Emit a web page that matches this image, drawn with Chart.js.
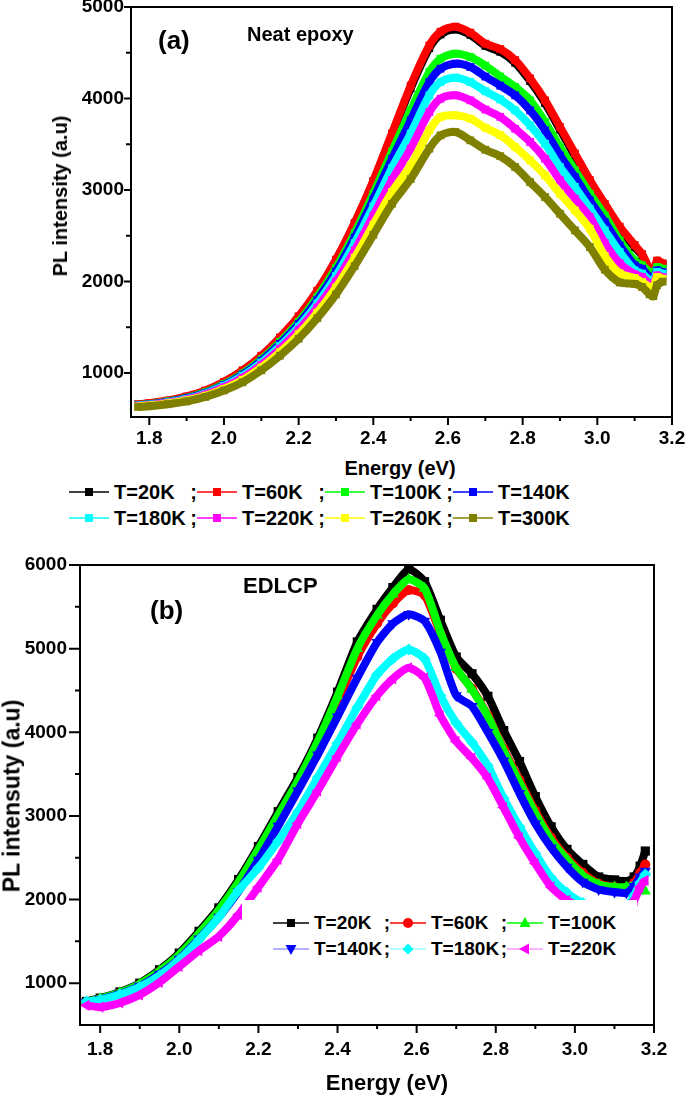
<!DOCTYPE html>
<html>
<head>
<meta charset="utf-8">
<script src="https://cdn.jsdelivr.net/npm/chart.js@4.4.1/dist/chart.umd.min.js"></script>
<style>
  body { margin: 0; background: #fff; }
  #page { position: relative; width: 685px; height: 1096px; overflow: hidden;
          font-family: 'Liberation Sans', Arial, sans-serif; font-weight: bold; color: #000; }
  canvas { position: absolute; left: 0; }
  .txt { position: absolute; white-space: nowrap; line-height: 1; }
  .ctr { transform: translate(-50%, -50%); }
  .rot { transform: translate(-50%, -50%) rotate(-90deg); }
  .legend { position: absolute; }
  .row { display: flex; height: 26px; align-items: center; }
  .cell { display: flex; align-items: center; flex: none; }
  .cell svg { flex: none; display: block; }
  .cell .lab { margin-left: 5px; }
  .cell .semi { margin-left: auto; }
  #boxB { position: absolute; left: 242px; top: 900px; width: 395px; height: 75px; background: #fff; }
</style>
</head>
<body>
<div id="page">
  <canvas id="chartA" width="685" height="450" style="top:0"></canvas>
  <canvas id="chartB" width="685" height="556" style="top:540px"></canvas>

  <div class="txt" style="left:158px; top:27px; font-size:26px">(a)</div>
  <div class="txt" style="left:247px; top:24px; font-size:20px">Neat epoxy</div>
  <div class="txt rot" style="left:60px; top:196px; font-size:20px">PL intensity (a.u)</div>
  <div class="txt ctr" style="left:400px; top:468px; font-size:20px">Energy (eV)</div>
  <div class="legend" id="legendA" style="left:69px; top:479px; font-size:20px"></div>

  <div class="txt" style="left:150px; top:597px; font-size:26px">(b)</div>
  <div class="txt" style="left:243px; top:575px; font-size:22px">EDLCP</div>
  <div class="txt rot" style="left:12px; top:796px; font-size:23px">PL intensuty (a.u)</div>
  <div class="txt ctr" style="left:387px; top:1083px; font-size:22px">Energy (eV)</div>
  <div id="boxB"></div>
  <div class="legend" id="legendB" style="left:273px; top:910px; font-size:19px"></div>
</div>

<script>
// ── (a) Neat epoxy ──
const energyA = [1.77, 1.80, 1.85, 1.90, 1.95, 2.00, 2.05, 2.10, 2.15, 2.20, 2.25, 2.30,
                 2.35, 2.40, 2.45, 2.50, 2.55, 2.58, 2.62, 2.66, 2.70, 2.74, 2.78, 2.82,
                 2.86, 2.90, 2.94, 2.98, 3.02, 3.06, 3.10, 3.12, 3.14, 3.15, 3.16, 3.175];
const neat20K  = [655, 665, 695, 740, 805, 900, 1025, 1182, 1382, 1612, 1892, 2232,
                  2632, 3092, 3605, 4110, 4550, 4700, 4755, 4695, 4575, 4510, 4390, 4190,
                  3950, 3660, 3370, 3080, 2820, 2575, 2375, 2285, 2120, 2080, 2210, 2190];
const neat60K  = [660, 670, 700, 745, 810, 905, 1030, 1190, 1390, 1620, 1900, 2240,
                  2640, 3100, 3620, 4140, 4580, 4730, 4785, 4720, 4600, 4540, 4420, 4220,
                  3980, 3690, 3400, 3110, 2850, 2600, 2400, 2300, 2140, 2100, 2230, 2200];
const neat100K = [650, 660, 690, 730, 790, 880, 995, 1150, 1340, 1560, 1830, 2150,
                  2530, 2960, 3420, 3870, 4290, 4435, 4490, 4454, 4360, 4240, 4126, 3980,
                  3743, 3470, 3215, 2960, 2723, 2450, 2231, 2177, 2104, 2080, 2158, 2140];
const neat140K = [648, 657, 685, 725, 783, 870, 983, 1135, 1320, 1535, 1800, 2110,
                  2480, 2900, 3340, 3761, 4180, 4326, 4381, 4344, 4240, 4140, 4035, 3870,
                  3652, 3379, 3142, 2887, 2650, 2395, 2177, 2140, 2049, 2030, 2122, 2104];
const neat180K = [645, 654, 680, 718, 775, 860, 970, 1115, 1295, 1505, 1760, 2060,
                  2420, 2820, 3240, 3616, 4035, 4180, 4228, 4180, 4080, 3990, 3870, 3707,
                  3506, 3251, 3033, 2796, 2559, 2322, 2122, 2086, 2013, 2000, 2104, 2086];
const neat220K = [640, 650, 675, 710, 765, 845, 950, 1090, 1265, 1470, 1715, 2000,
                  2340, 2720, 3110, 3452, 3852, 3998, 4035, 3980, 3880, 3800, 3670, 3525,
                  3342, 3106, 2905, 2705, 2420, 2200, 2080, 2049, 1976, 1960, 2067, 2049];
const neat260K = [635, 645, 668, 700, 752, 828, 925, 1060, 1228, 1425, 1660, 1935,
                  2260, 2620, 2980, 3270, 3652, 3798, 3816, 3780, 3680, 3600, 3470, 3324,
                  3160, 2960, 2778, 2577, 2280, 2090, 2040, 1994, 1940, 1920, 2049, 2031];
const neat300K = [630, 638, 660, 690, 740, 810, 900, 1030, 1190, 1375, 1600, 1860,
                  2170, 2510, 2850, 3120, 3452, 3597, 3634, 3543, 3440, 3370, 3251, 3087,
                  2923, 2741, 2559, 2377, 2130, 1990, 1975, 1940, 1860, 1840, 1960, 2000];
const labelsA = ['T=20K', 'T=60K', 'T=100K', 'T=140K', 'T=180K', 'T=220K', 'T=260K', 'T=300K'];
const colorsA = ['#000000', '#ff0000', '#00ff00', '#0000ff', '#00ffff', '#ff00ff', '#ffff00', '#808000'];
const seriesA = [neat20K, neat60K, neat100K, neat140K, neat180K, neat220K, neat260K, neat300K];

// ── (b) EDLCP ──
const energyB = [1.765, 1.80, 1.85, 1.90, 1.95, 2.00, 2.05, 2.10, 2.15, 2.20, 2.25, 2.30,
                 2.35, 2.40, 2.45, 2.50, 2.54, 2.58, 2.62, 2.66, 2.70, 2.74, 2.78, 2.82,
                 2.86, 2.90, 2.94, 2.98, 3.02, 3.06, 3.10, 3.13, 3.15, 3.165, 3.178];
const edlcp20K  = [781, 821, 895, 1000, 1160, 1360, 1620, 1900, 2240, 2633, 3050, 3460,
                   3930, 4480, 5080, 5470, 5730, 5950, 5800, 5340, 4900, 4700, 4430, 4020,
                   3650, 3230, 2870, 2600, 2420, 2270, 2235, 2215, 2270, 2400, 2580];
const edlcp60K  = [770, 810, 880, 982, 1135, 1325, 1575, 1850, 2180, 2560, 2960, 3370,
                   3830, 4360, 4900, 5300, 5540, 5700, 5640, 5180, 4760, 4520, 4200, 3800,
                   3430, 3060, 2740, 2500, 2320, 2190, 2150, 2130, 2200, 2320, 2420];
const edlcp100K = [775, 815, 885, 990, 1145, 1340, 1595, 1875, 2210, 2600, 3010, 3420,
                   3890, 4430, 5000, 5400, 5650, 5830, 5720, 5200, 4770, 4510, 4190, 3780,
                   3400, 3030, 2710, 2480, 2290, 2180, 2150, 2150, 2170, 2130, 2100];
const edlcp140K = [770, 805, 870, 965, 1110, 1290, 1530, 1790, 2100, 2474, 2880, 3300,
                   3730, 4187, 4650, 5075, 5300, 5410, 5330, 4960, 4440, 4310, 4000, 3660,
                   3270, 2910, 2620, 2390, 2210, 2120, 2090, 2080, 2160, 2270, 2340];
const edlcp180K = [781, 801, 865, 955, 1090, 1280, 1520, 1790, 2110, 2380, 2700, 3050,
                   3460, 3870, 4300, 4690, 4880, 4990, 4880, 4440, 4110, 3880, 3600, 3210,
                   2870, 2550, 2260, 2080, 1960, 1910, 1900, 1910, 2050, 2200, 2300];
const edlcp220K = [735, 713, 765, 860, 1010, 1200, 1390, 1560, 1820, 2150, 2480, 2912,
                   3300, 3709, 4100, 4438, 4640, 4770, 4650, 4200, 3890, 3690, 3450, 3100,
                   2740, 2430, 2150, 1990, 1900, 1870, 1860, 1880, 1990, 2150, 2230];
const labelsB = ['T=20K', 'T=60K', 'T=100K', 'T=140K', 'T=180K', 'T=220K'];
const colorsB = ['#000000', '#ff0000', '#00ff00', '#0000ff', '#00ffff', '#ff00ff'];
const lineColorsB = ['#000000', '#ff0000', '#00ff00', '#9999ff', '#99ffff', '#ff99ff'];
const stylesB = ['rect', 'circle', 'triangle', 'triangle', 'rectRot', 'triangle'];
const rotationsB = [0, 0, 0, 180, 0, -90];
const radiiB = [6.5, 5, 6.5, 6.5, 6, 6.5];
const seriesB = [edlcp20K, edlcp60K, edlcp100K, edlcp140K, edlcp180K, edlcp220K];

// ── axes ──
const xMajor = [1.8, 2.0, 2.2, 2.4, 2.6, 2.8, 3.0, 3.2];
const xMinor = [1.9, 2.1, 2.3, 2.5, 2.7, 2.9, 3.1];
const yMajorA = [1000, 2000, 3000, 4000, 5000];
const yMinorA = [1500, 2500, 3500, 4500];
const yMajorB = [1000, 2000, 3000, 4000, 5000, 6000];
const yMinorB = [1500, 2500, 3500, 4500, 5500];

// frame, outward major/minor ticks and tick labels, placed through the chart's scales
const framePlugin = {
    id: 'frame',
    afterDatasetsDraw(chart, args, o) {
        const { ctx, chartArea: a, scales: { x, y } } = chart;
        ctx.save();
        ctx.strokeStyle = '#000';
        ctx.lineWidth = 2;
        ctx.strokeRect(a.left, a.top, a.right - a.left, a.bottom - a.top);
        ctx.beginPath();
        const xt = (v, len) => { const p = x.getPixelForValue(v); ctx.moveTo(p, a.bottom); ctx.lineTo(p, a.bottom + len); };
        const yt = (v, len) => { const p = y.getPixelForValue(v); ctx.moveTo(a.left, p); ctx.lineTo(a.left - len, p); };
        o.xMajor.forEach(v => xt(v, 8));
        o.xMinor.forEach(v => xt(v, 4));
        o.yMajor.forEach(v => yt(v, o.yLen));
        o.yMinor.forEach(v => yt(v, 5));
        ctx.stroke();

        ctx.fillStyle = '#000';
        ctx.font = "bold 19px 'Liberation Sans', Arial, sans-serif";
        ctx.textBaseline = 'middle';
        ctx.textAlign = 'center';
        o.xMajor.forEach(v => ctx.fillText(v.toFixed(1), x.getPixelForValue(v), a.bottom + o.xOff));
        ctx.textAlign = 'right';
        o.yMajor.forEach(v => ctx.fillText(String(v), a.left - o.yOff, y.getPixelForValue(v)));
        ctx.restore();
    }
};

function scalesFor(xRange, yRange, yWidth, xHeight) {
    return {
        x: {
            type: 'linear', min: xRange[0], max: xRange[1],
            grid: { display: false, drawTicks: false }, border: { display: false },
            ticks: { display: false },
            afterFit: s => { s.height = xHeight; s.paddingLeft = 0; s.paddingRight = 0; }
        },
        y: {
            type: 'linear', min: yRange[0], max: yRange[1],
            grid: { display: false, drawTicks: false }, border: { display: false },
            ticks: { display: false },
            afterFit: s => { s.width = yWidth; s.paddingTop = 0; s.paddingBottom = 0; }
        }
    };
}

new Chart(document.getElementById('chartA'), {
    type: 'line',
    data: {
        datasets: seriesA.map((vals, i) => ({
            label: labelsA[i],
            data: energyA.map((e, j) => ({ x: e, y: vals[j] })),
            borderColor: colorsA[i], backgroundColor: colorsA[i],
            borderWidth: 8, tension: 0.3,
            pointStyle: 'rect', pointRadius: 5.5, pointBorderWidth: 0,
            order: -i, clip: 0
        }))
    },
    options: {
        responsive: false, animation: false,
        layout: { padding: { left: 0, top: 7, right: 13, bottom: 0 } },
        plugins: { legend: { display: false }, tooltip: { enabled: false },
                   frame: { xMajor, xMinor, yMajor: yMajorA, yMinor: yMinorA, yLen: 7, xOff: 22, yOff: 7 } },
        scales: scalesFor([1.751, 3.2], [520, 5000], 131, 33)
    },
    plugins: [framePlugin]
});

new Chart(document.getElementById('chartB'), {
    type: 'line',
    data: {
        datasets: seriesB.map((vals, i) => ({
            label: labelsB[i],
            data: energyB.map((e, j) => ({ x: e, y: vals[j] })),
            borderColor: colorsB[i], backgroundColor: colorsB[i],
            borderWidth: 8, tension: 0.2,
            pointStyle: stylesB[i], pointRotation: rotationsB[i], pointRadius: radiiB[i],
            pointBorderWidth: 0, order: -i, clip: 0
        }))
    },
    options: {
        responsive: false, animation: false,
        layout: { padding: { left: 0, top: 25, right: 31, bottom: 0 } },
        plugins: { legend: { display: false }, tooltip: { enabled: false },
                   frame: { xMajor, xMinor, yMajor: yMajorB, yMinor: yMinorB, yLen: 11, xOff: 25, yOff: 13 } },
        scales: scalesFor([1.749, 3.2], [500, 6000], 80, 71)
    },
    plugins: [framePlugin]
});

// ── HTML legends ──
function symbol(w, lineColor, color, style, rot) {
    const cx = w / 2, cy = 7;
    let mark;
    if (style === 'rect') mark = `<rect x="${cx - 4}" y="${cy - 4}" width="8" height="8" fill="${color}"/>`;
    else if (style === 'circle') mark = `<circle cx="${cx}" cy="${cy}" r="5" fill="${color}"/>`;
    else if (style === 'rectRot') mark = `<polygon points="${cx},${cy - 5.5} ${cx + 5.5},${cy} ${cx},${cy + 5.5} ${cx - 5.5},${cy}" fill="${color}"/>`;
    else mark = `<polygon points="${cx},${cy - 6} ${cx + 5.5},${cy + 4} ${cx - 5.5},${cy + 4}" fill="${color}" transform="rotate(${rot} ${cx} ${cy})"/>`;
    return `<svg width="${w}" height="14"><line x1="0" y1="${cy}" x2="${w}" y2="${cy}" stroke="${lineColor}" stroke-width="1.5"/>${mark}</svg>`;
}

function buildLegend(id, labels, lineColors, colors, styles, rots, cols, cellW, symW) {
    const el = document.getElementById(id);
    let html = '';
    for (let r = 0; r < labels.length / cols; r++) {
        html += '<div class="row">';
        for (let c = 0; c < cols; c++) {
            const i = r * cols + c;
            html += `<div class="cell" style="width:${cellW}px">` +
                    symbol(symW, lineColors[i], colors[i], styles[i], rots[i]) +
                    `<span class="lab">${labels[i]}</span>` +
                    (c < cols - 1 ? '<span class="semi">;</span>' : '') + '</div>';
        }
        html += '</div>';
    }
    el.innerHTML = html;
}

buildLegend('legendA', labelsA, colorsA, colorsA, labelsA.map(() => 'rect'), labelsA.map(() => 0), 4, 128, 40);
buildLegend('legendB', labelsB, lineColorsB, colorsB, stylesB, rotationsB, 3, 117, 36);
</script>
</body>
</html>
